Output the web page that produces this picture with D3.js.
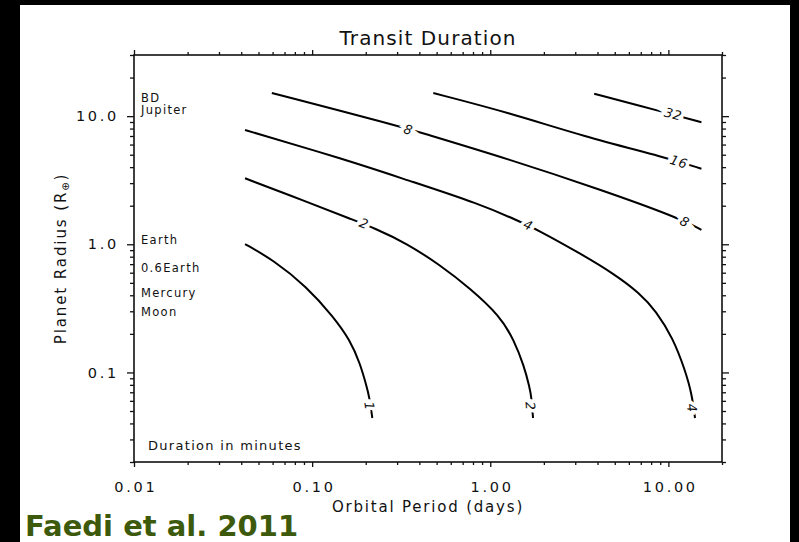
<!DOCTYPE html>
<html>
<head>
<meta charset="utf-8">
<script src="https://cdn.jsdelivr.net/npm/d3@7"></script>
<style>
  body { margin: 0; background: #000; }
  text { font-family: "DejaVu Sans", sans-serif; fill: #111; }
</style>
</head>
<body>
<script>
// tick labels
const xMajor = [0.01, 0.1, 1, 10];
const xMajorLabels = ["0.01", "0.10", "1.00", "10.00"];
const yMajor = [0.1, 1, 10];
const yMajorLabels = ["0.1", "1.0", "10.0"];

// contour lines: [period (days), radius (R_earth)]
const contour1 = [[0.0420, 1.005], [0.0605, 0.754], [0.0932, 0.467], [0.1315, 0.272], [0.1632, 0.179],
  [0.1857, 0.118], [0.2025, 0.0774], [0.2094, 0.0647], [0.2177, 0.0441]];
const contour2 = [[0.0420, 3.273], [0.0932, 2.149], [0.1703, 1.547], [0.2206, 1.347], [0.3396, 1.018],
  [0.5222, 0.689], [0.7697, 0.4535], [1.134, 0.2757], [1.359, 0.179], [1.547, 0.1123], [1.661, 0.0770],
  [1.704, 0.0643], [1.738, 0.0441]];
const contour4 = [[0.0420, 7.799], [0.1563, 4.548], [0.3396, 3.175], [0.8757, 2.063], [1.469, 1.501],
  [1.822, 1.309], [3.191, 0.8505], [4.906, 0.5937], [6.927, 0.4145], [8.521, 0.3016], [10.61, 0.1856],
  [12.40, 0.1045], [13.52, 0.0687], [14.11, 0.0441]];
const contour8 = [[0.0594, 15.15], [0.3116, 8.330], [0.3947, 7.539], [1.290, 4.592], [4.124, 2.685],
  [11.10, 1.636], [15.33, 1.296]];
const contour16 = [[0.4789, 15.15], [1.290, 10.59], [3.324, 6.966], [9.757, 4.734], [15.33, 3.888]];
const contour32 = [[3.831, 14.96], [9.339, 10.78], [15.33, 8.951]];

const contours = [contour1, contour2, contour4, contour8, contour16, contour32];

// contour labels: text, period, radius, which contour
const contourLabels = [
  { text: "1", p: 0.2100, r: 0.0547, c: 0 },
  { text: "2", p: 0.1956, r: 1.453, c: 1 },
  { text: "2", p: 1.682, r: 0.0547, c: 1 },
  { text: "4", p: 1.635, r: 1.414, c: 2 },
  { text: "4", p: 13.55, r: 0.0528, c: 2 },
  { text: "8", p: 0.3468, r: 7.857, c: 3 },
  { text: "8", p: 12.36, r: 1.506, c: 3 },
  { text: "16", p: 11.44, r: 4.408, c: 4 },
  { text: "32", p: 10.63, r: 10.40, c: 5 },
];

// reference bodies written along the left edge
const bodyNames = ["BD", "Jupiter", "Earth", "0.6Earth", "Mercury", "Moon"];
const bodyRadii = [13.0, 10.3, 1.0, 0.606, 0.385, 0.277];

const width = 799, height = 542;
const plotLeft = 134, plotRight = 722, plotTop = 55, plotBottom = 462;

const svg = d3.select("body").append("svg")
  .attr("width", width)
  .attr("height", height);

svg.append("rect")
  .attr("x", 20).attr("y", 5)
  .attr("width", 770).attr("height", 537)
  .attr("fill", "#fff");

const x = d3.scaleLog().domain([0.01, 20]).range([plotLeft, plotRight]);
const y = d3.scaleLog().domain([0.02, 30]).range([plotBottom, plotTop]);

const xMinor = x.ticks().filter((v) => !xMajor.some((m) => Math.abs(m - v) < 1e-9));
const yMinor = y.ticks().filter((v) => !yMajor.some((m) => Math.abs(m - v) < 1e-9));

function styleAxis(g) {
  g.select(".domain").remove();
  g.selectAll(".tick line").attr("stroke", "#111").attr("stroke-width", 1.3);
}

// minor ticks, all four sides
svg.append("g").attr("transform", `translate(0,${plotBottom})`)
  .call(d3.axisBottom(x).tickValues(xMinor).tickFormat("").tickSize(3)).call(styleAxis);
svg.append("g").attr("transform", `translate(0,${plotTop})`)
  .call(d3.axisTop(x).tickValues(xMinor).tickFormat("").tickSize(3)).call(styleAxis);
svg.append("g").attr("transform", `translate(${plotLeft},0)`)
  .call(d3.axisLeft(y).tickValues(yMinor).tickFormat("").tickSize(4)).call(styleAxis);
svg.append("g").attr("transform", `translate(${plotRight},0)`)
  .call(d3.axisRight(y).tickValues(yMinor).tickFormat("").tickSize(4)).call(styleAxis);

// major ticks
const xb = svg.append("g").attr("transform", `translate(0,${plotBottom})`)
  .call(d3.axisBottom(x).tickValues(xMajor).tickFormat((d, i) => xMajorLabels[i]).tickSize(5).tickPadding(15))
  .call(styleAxis);
svg.append("g").attr("transform", `translate(0,${plotTop})`)
  .call(d3.axisTop(x).tickValues(xMajor).tickFormat("").tickSize(5)).call(styleAxis);
const yl = svg.append("g").attr("transform", `translate(${plotLeft},0)`)
  .call(d3.axisLeft(y).tickValues(yMajor).tickFormat((d, i) => yMajorLabels[i]).tickSize(7).tickPadding(8))
  .call(styleAxis);
svg.append("g").attr("transform", `translate(${plotRight},0)`)
  .call(d3.axisRight(y).tickValues(yMajor).tickFormat("").tickSize(7)).call(styleAxis);

xb.selectAll("text").attr("font-size", 14.5).attr("letter-spacing", 2.7).attr("dx", 1.4)
  .style("font-family", "DejaVu Sans").attr("fill", "#111");
yl.selectAll("text").attr("font-size", 14.5).attr("letter-spacing", 2.7)
  .style("font-family", "DejaVu Sans").attr("fill", "#111");

// frame
svg.append("rect")
  .attr("x", plotLeft).attr("y", plotTop)
  .attr("width", plotRight - plotLeft).attr("height", plotBottom - plotTop)
  .attr("fill", "none").attr("stroke", "#111").attr("stroke-width", 1.6);

// contours (B-spline smooths out the reading noise)
const line = d3.line()
  .x((d) => x(d[0]))
  .y((d) => y(d[1]))
  .curve(d3.curveBasis);

svg.append("g").selectAll("path")
  .data(contours)
  .join("path")
  .attr("d", line)
  .attr("fill", "none")
  .attr("stroke", "#000")
  .attr("stroke-width", 2);

// contour labels along the line
function angleAt(pts, px, py) {
  const s = pts.map((d) => [x(d[0]), y(d[1])]);
  let best = 0, bestD = Infinity;
  for (let i = 0; i < s.length - 1; i++) {
    const mx = (s[i][0] + s[i + 1][0]) / 2, my = (s[i][1] + s[i + 1][1]) / 2;
    const dd = (mx - px) ** 2 + (my - py) ** 2;
    if (dd < bestD) { bestD = dd; best = i; }
  }
  return Math.atan2(s[best + 1][1] - s[best][1], s[best + 1][0] - s[best][0]) * 180 / Math.PI;
}

svg.append("g").selectAll("text")
  .data(contourLabels)
  .join("text")
  .attr("transform", (d) => {
    const px = x(d.p), py = y(d.r);
    return `translate(${px},${py}) rotate(${angleAt(contours[d.c], px, py)})`;
  })
  .attr("text-anchor", "middle")
  .attr("dy", "0.36em")
  .attr("font-size", 13)
  .attr("font-style", "italic")
  .attr("letter-spacing", 0.5)
  .attr("stroke", "#fff")
  .attr("stroke-width", 7)
  .attr("paint-order", "stroke")
  .text((d) => d.text);

// body names
svg.append("g").selectAll("text")
  .data(bodyNames)
  .join("text")
  .attr("x", plotLeft + 7)
  .attr("y", (d, i) => y(bodyRadii[i]))
  .attr("font-size", 11.5)
  .attr("letter-spacing", 1.3)
  .text((d) => d);

svg.append("text")
  .attr("x", plotLeft + 14).attr("y", plotBottom - 12)
  .attr("font-size", 13)
  .attr("letter-spacing", 1.3)
  .text("Duration in minutes");

// titles
svg.append("text")
  .attr("x", (plotLeft + plotRight) / 2).attr("y", 45)
  .attr("text-anchor", "middle")
  .attr("font-size", 20)
  .attr("letter-spacing", 1.1)
  .text("Transit Duration");

svg.append("text")
  .attr("x", (plotLeft + plotRight) / 2).attr("y", 512)
  .attr("text-anchor", "middle")
  .attr("font-size", 15)
  .attr("letter-spacing", 1.8)
  .text("Orbital Period (days)");

const yt = svg.append("text")
  .attr("transform", `translate(66,${(plotTop + plotBottom) / 2}) rotate(-90)`)
  .attr("text-anchor", "middle")
  .attr("font-size", 15)
  .attr("letter-spacing", 1.9);
yt.append("tspan").text("Planet Radius (R");
yt.append("tspan").attr("font-size", 10).attr("dy", 3).text("\u2295");
yt.append("tspan").attr("dy", -3).text(")");

svg.append("text")
  .attr("x", 25).attr("y", 536)
  .attr("font-size", 29)
  .attr("font-weight", "bold")
  .style("fill", "#3d5a0c")
  .text("Faedi et al. 2011");
</script>
</body>
</html>
